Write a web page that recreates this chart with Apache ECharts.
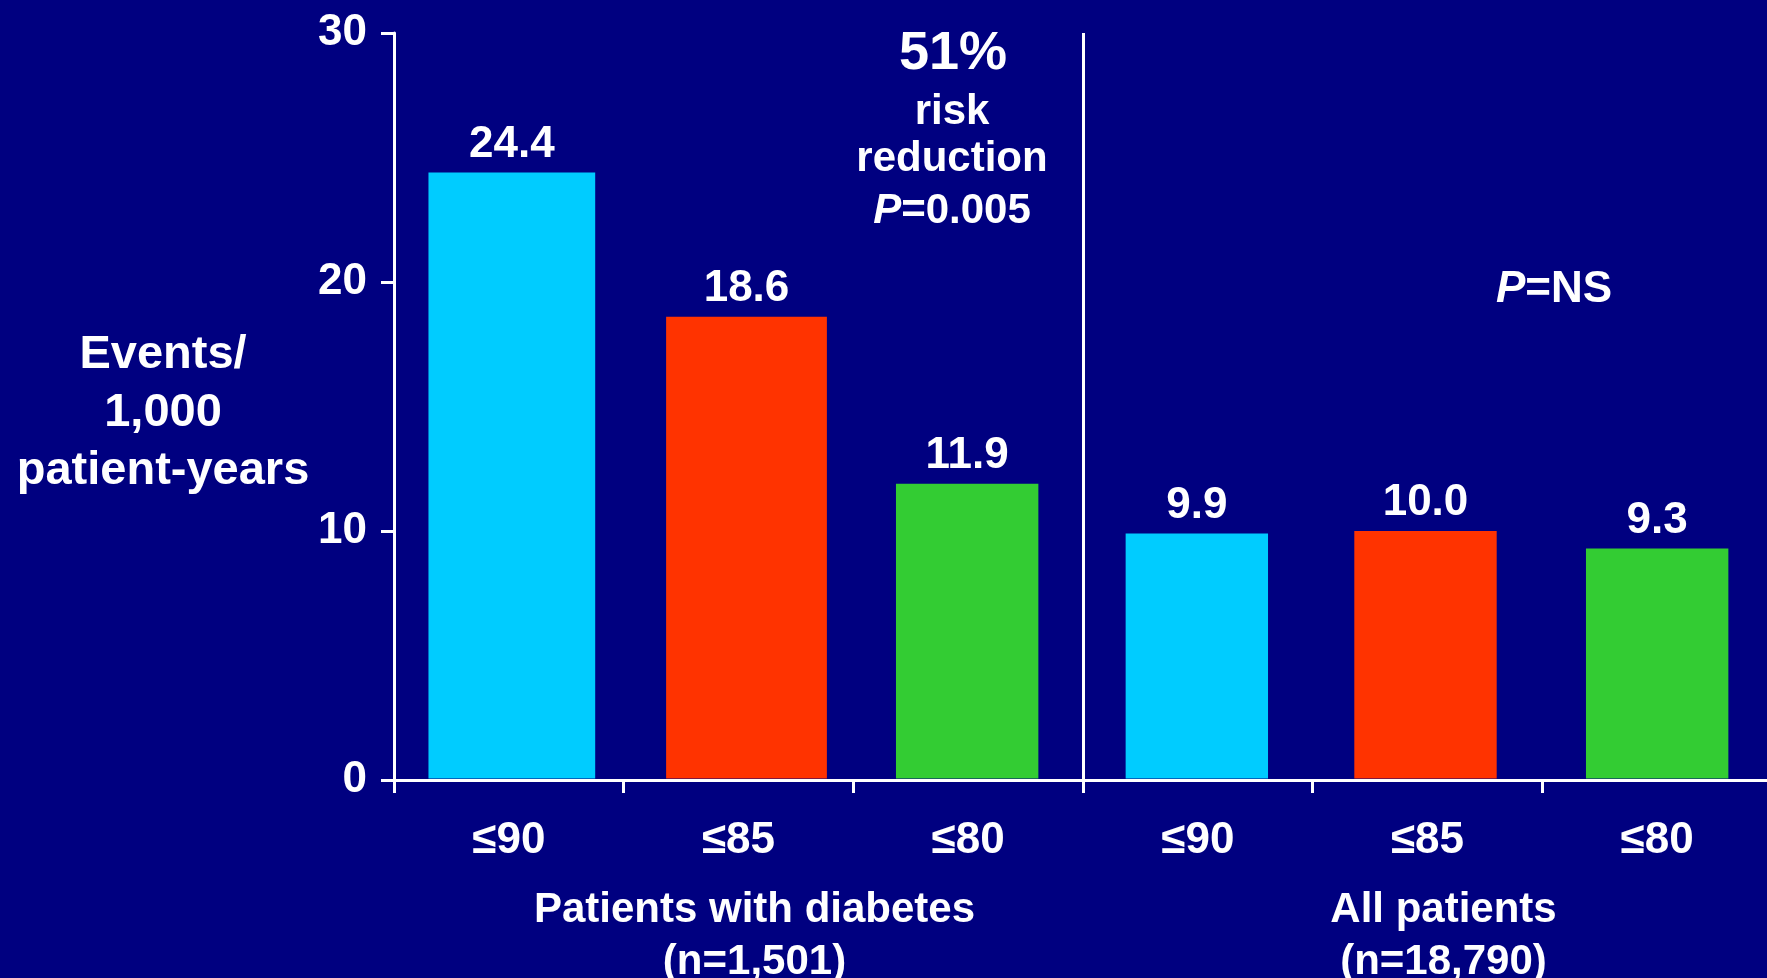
<!DOCTYPE html>
<html>
<head>
<meta charset="utf-8">
<script src="https://cdn.jsdelivr.net/npm/echarts@6/dist/echarts.min.js"></script>
<style>
  html, body { margin: 0; padding: 0; background: #000080; }
  #chart { width: 1767px; height: 978px; }
</style>
</head>
<body>
<div id="chart"></div>
<script>
// Waist-circumference thresholds (cm) for each patient group
const categories = ['≤90', '≤85', '≤80', '≤90', '≤85', '≤80'];
// Events per 1,000 patient-years
const eventRates = [24.4, 18.6, 11.9, 9.9, 10.0, 9.3];
const rateLabels = ['24.4', '18.6', '11.9', '9.9', '10.0', '9.3'];
const groupNames = ['Patients with diabetes\n(n=1,501)', 'All patients\n(n=18,790)'];
const yTicks = [0, 10, 20, 30];
// The two groups are separated before this category index
const groupSplitIndex = 3;

// Styling
const FONT = '"Liberation Sans", Arial, sans-serif';
const barColors = ['#00CCFF', '#FF3300', '#33CC33', '#00CCFF', '#FF3300', '#33CC33'];
const barWidthRatio = [0.726, 0.70, 0.62, 0.62, 0.62, 0.62];
const barShift = [3, 8, -1, -1, -2, 0];

const chart = echarts.init(document.getElementById('chart'), null, { renderer: 'canvas' });

function italicP(text, size) {
  return {
    text: text, fill: '#ffffff', font: 'bold ' + size + 'px ' + FONT,
    textAlign: 'center', textVerticalAlign: 'middle',
    rich: { i: { fontStyle: 'italic', fontWeight: 'bold', fontSize: size, fontFamily: FONT, fill: '#ffffff' } }
  };
}

const option = {
  backgroundColor: '#000080',
  animation: false,
  grid: {
    left: 394, right: -5, top: 33, bottom: 198,
    containLabel: false, outerBoundsMode: 'none'
  },
  xAxis: [
    {
      type: 'category',
      data: categories,
      boundaryGap: true,
      axisLine: { show: true, lineStyle: { color: '#ffffff', width: 3 } },
      axisTick: { show: true, length: 13, lineStyle: { color: '#ffffff', width: 3 } },
      axisLabel: {
        color: '#ffffff', fontFamily: FONT, fontWeight: 'bold', fontSize: 44,
        lineHeight: 44, margin: 39
      },
      splitLine: { show: false }
    },
    {
      type: 'category',
      data: groupNames,
      position: 'bottom',
      boundaryGap: true,
      axisLine: { show: false },
      axisTick: { show: false },
      splitLine: { show: false },
      axisLabel: {
        color: '#ffffff', fontFamily: FONT, fontWeight: 'bold', fontSize: 42,
        lineHeight: 52, margin: 104, padding: [0, 0, 0, 32]
      }
    }
  ],
  yAxis: {
    type: 'value',
    min: yTicks[0],
    max: yTicks[yTicks.length - 1],
    interval: yTicks[1] - yTicks[0],
    // a thin leading spacer line lowers the three-line title slightly
    name: '{gap| }\nEvents/\n1,000\npatient-years',
    nameLocation: 'middle',
    nameRotate: 0,
    nameGap: 231,
    nameTextStyle: {
      color: '#ffffff', fontFamily: FONT, fontWeight: 'bold', fontSize: 47,
      lineHeight: 58, align: 'center', verticalAlign: 'middle',
      rich: { gap: { fontSize: 1, lineHeight: 14 } }
    },
    axisLine: { show: true, lineStyle: { color: '#ffffff', width: 3 } },
    axisTick: { show: true, length: 13, lineStyle: { color: '#ffffff', width: 3 } },
    axisLabel: {
      color: '#ffffff', fontFamily: FONT, fontWeight: 'bold', fontSize: 44, margin: 27
    },
    splitLine: { show: false }
  },
  series: [
    {
      type: 'custom',
      xAxisIndex: 0,
      yAxisIndex: 0,
      data: eventRates.map(function (v, i) { return [i, v]; }),
      encode: { x: 0, y: 1 },
      renderItem: function (params, api) {
        const idx = api.value(0);
        const val = api.value(1);
        const top = api.coord([idx, val]);
        const base = api.coord([idx, 0]);
        const band = api.size([1, 0])[0];
        const w = band * barWidthRatio[idx];
        const cx = top[0] + barShift[idx];
        const children = [{
          type: 'rect',
          shape: { x: cx - w / 2, y: top[1], width: w, height: base[1] - top[1] - 1.5 },
          style: { fill: barColors[idx] },
          textContent: {
            style: { text: rateLabels[idx], fill: '#ffffff', font: 'bold 44px ' + FONT }
          },
          textConfig: { position: 'top', distance: 6 }
        }];
        if (idx === groupSplitIndex) {
          // vertical rule between the two patient groups, at the category boundary
          const edgeX = Math.round(base[0] - band / 2) + 0.5;
          const yTop = api.coord([idx, yTicks[yTicks.length - 1]])[1];
          children.push({
            type: 'line',
            shape: { x1: edgeX, y1: yTop, x2: edgeX, y2: base[1] + 13 },
            style: { stroke: '#ffffff', lineWidth: 3 }
          });
        }
        return { type: 'group', children: children };
      }
    }
  ],
  graphic: [
    {
      type: 'text', x: 953, y: 54,
      style: {
        text: '51%', fill: '#ffffff', font: 'bold 54px ' + FONT,
        textAlign: 'center', textVerticalAlign: 'middle'
      }
    },
    {
      type: 'text', x: 952, y: 112,
      style: {
        text: 'risk', fill: '#ffffff', font: 'bold 42px ' + FONT,
        textAlign: 'center', textVerticalAlign: 'middle'
      }
    },
    {
      type: 'text', x: 952, y: 159,
      style: {
        text: 'reduction', fill: '#ffffff', font: 'bold 42px ' + FONT,
        textAlign: 'center', textVerticalAlign: 'middle'
      }
    },
    { type: 'text', x: 952, y: 211, style: italicP('{i|P}=0.005', 42) },
    { type: 'text', x: 1554, y: 290, style: italicP('{i|P}=NS', 44) }
  ]
};

chart.setOption(option);
</script>
</body>
</html>
